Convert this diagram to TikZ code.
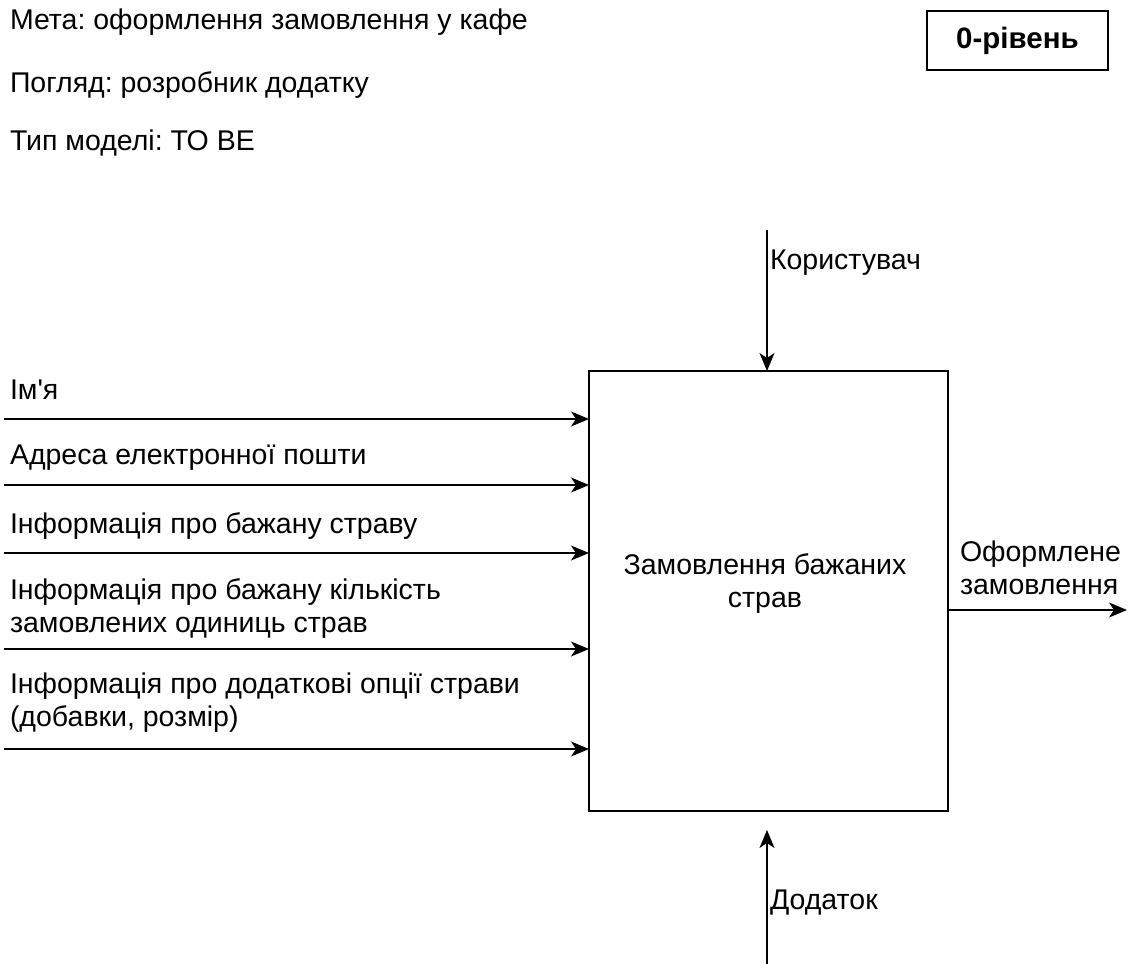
\documentclass[tikz,border=0pt]{standalone}
\usepackage{fontspec}
\setmainfont{Liberation Sans}
% same face without the TeX quote mapping, for a straight apostrophe
\newfontfamily\rawfont{Liberation Sans}
\usetikzlibrary{arrows.meta}
\frenchspacing
\begin{document}
\begin{tikzpicture}[x=1pt,y=-1pt,
  every node/.style={inner sep=0pt, outer sep=0pt, font=\fontsize{28.5}{33}\selectfont},
  plain/.style={anchor=west, align=left},
  flow/.style={line width=1.4pt, -{Stealth[length=18pt,width=15pt,inset=5pt]}},
  boxline/.style={draw, line width=1.4pt}]
\useasboundingbox (0,0) rectangle (1128,964);

% heading
\node[plain] (goal) at (10,22) {Мета: оформлення замовлення у кафе};
\node[plain] (view) at (10,85) {Погляд: розробник додатку};
\node[plain] (kind) at (10,143) {Тип моделі: ТО ВЕ};
\node[boxline, minimum width=181pt, minimum height=59pt,
      font=\fontsize{29.5}{33}\selectfont\bfseries] (level) at (1017.5,40.5) {0-рівень};

% function block
\node[boxline, minimum width=359pt, minimum height=440pt] (proc) at (768.5,591) {};
\node[align=center] (ptext) at (765,583) {Замовлення бажаних\\страв};

% inputs
\coordinate (i1) at (4,419);
\coordinate (i2) at (4,485);
\coordinate (i3) at (4,553);
\coordinate (i4) at (4,649);
\coordinate (i5) at (4,749);
\node[plain] (l1) at (10,390) {Ім{\rawfont'}я};
\node[plain] (l2) at (10,458) {Адреса електронної пошти};
\node[plain] (l3) at (10,526) {Інформація про бажану страву};
\node[plain] (l4) at (10,608) {Інформація про бажану кількість\\замовлених одиниць страв};
\node[plain] (l5) at (10,703) {Інформація про додаткові опції страви\\(добавки, розмір)};
\foreach \c in {i1,i2,i3,i4,i5}
  \draw[flow] (\c) -- (\c -| proc.west);

% control
\coordinate (ctrl) at (767,230);
\draw[flow] (ctrl) -- (ctrl |- proc.north);
\node[plain] (lctrl) at (770,263) {Користувач};

% mechanism
\coordinate (mech) at (767,964);
\coordinate (mtip) at (767,830);
\draw[flow] (mech) -- (mtip);
\node[plain] (lmech) at (770,903) {Додаток};

% output
\coordinate (out) at (1127,610);
\draw[flow] (out -| proc.east) -- (out);
\node[plain] (lout) at (960,568) {Оформлене\\замовлення};
\end{tikzpicture}
\end{document}
